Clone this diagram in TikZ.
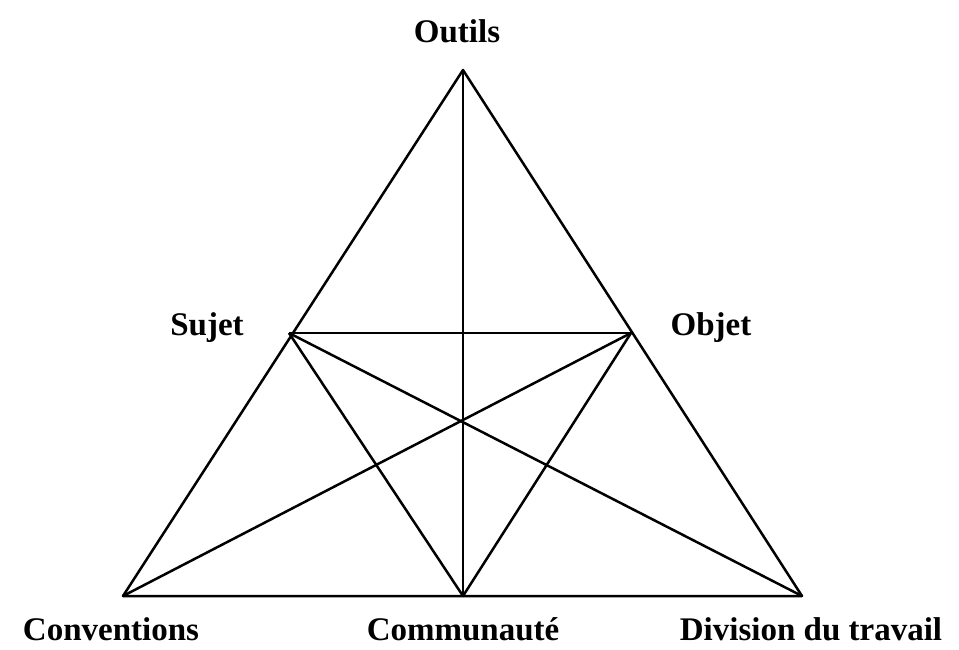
\documentclass[tikz,border=0pt]{standalone}
\usepackage{fontspec}
\setmainfont{Liberation Serif}
\usetikzlibrary{positioning}
\tikzset{
  lbl/.style={font=\fontsize{33}{36}\selectfont\bfseries, inner sep=0pt},
  edge/.style={line width=2.5pt, black, line join=round},
}

\begin{document}
\begin{tikzpicture}[x=1pt, y=-1pt]
  \useasboundingbox (0,0) rectangle (959,650);
  % sommets
  \coordinate (outils) at (463,70);
  \coordinate (sujet) at (289,333);
  \coordinate (objet) at (631,333);
  \coordinate (conv) at (123,596);
  \coordinate (comm) at (463,596);
  \coordinate (div) at (802,596);
  % libelles
  \node[lbl] (l-outils) at (457,31) {Outils};
  \node[lbl] (l-sujet) at (207,328) {Sujet};
  \node[lbl] (l-objet) at (711,328) {Objet};
  \node[lbl] (l-conv) at (111,629) {Conventions};
  \node[lbl] (l-comm) at (463,629) {Communauté};
  \node[lbl] (l-div) at (811,629) {Division du travail};
  % triangle et liaisons
  \draw[edge] (outils) -- (conv) -- (div) -- cycle;
  \draw[edge] (outils) -- (comm);
  \draw[edge] (sujet) -- (objet);
  \draw[edge] (sujet) -- (comm) -- (objet);
  \draw[edge] (sujet) -- (div);
  \draw[edge] (objet) -- (conv);
\end{tikzpicture}
\end{document}
